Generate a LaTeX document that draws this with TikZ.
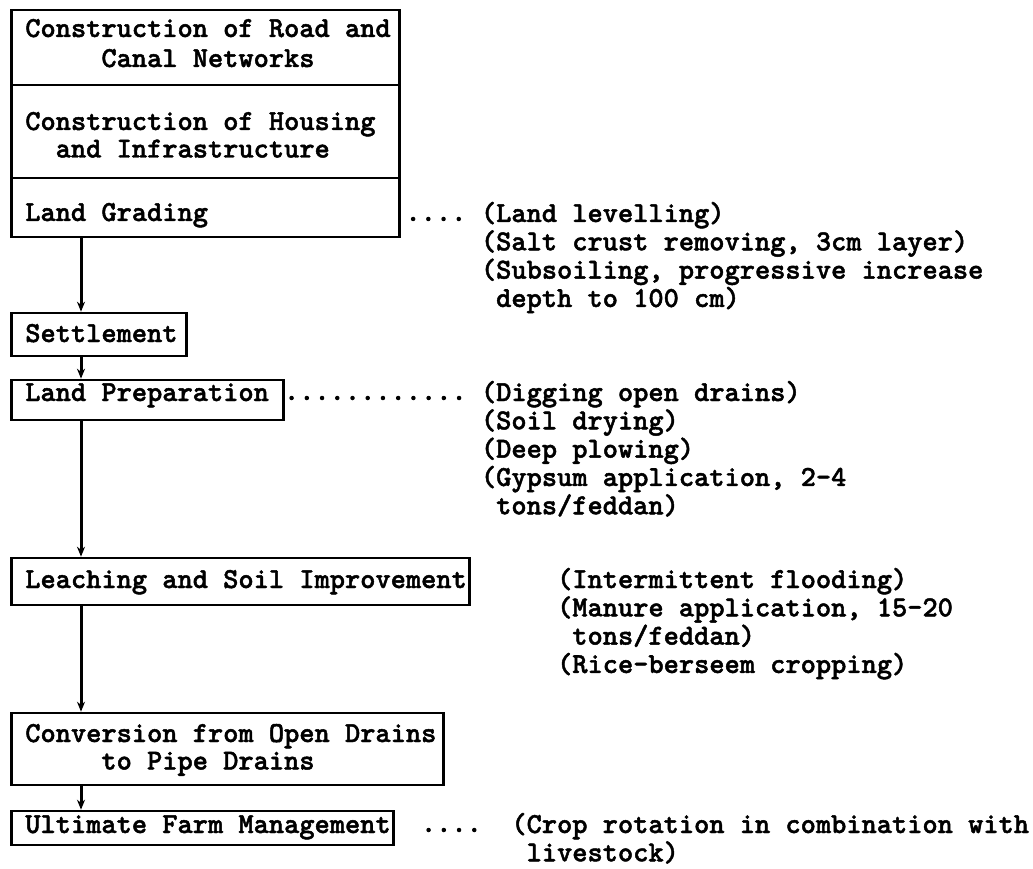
\documentclass[tikz,border=0pt]{standalone}
\usepackage{fontspec}
\setmonofont{lmmono10-regular.otf}[BoldFont=lmmonolt10-bold.otf,BoldFeatures={FakeBold=1.6}]
\usepackage{tikz}
\usetikzlibrary{arrows.meta}

\newcommand{\typewriter}{\fontsize{29}{27.5}\selectfont\ttfamily\bfseries}
\newcommand{\typedlines}[1]{\begin{tabular}[t]{@{}l@{}}#1\end{tabular}}
\newcommand{\typed}[2]{\makebox[#1][l]{\typedlines{#2}}}
\newcommand{\pad}[1]{\hphantom{#1}}

\tikzset{
  stage/.style={draw,line width=2.6pt,anchor=base west,inner xsep=14pt,inner ysep=0pt,font=\typewriter},
  note/.style={anchor=base west,inner sep=0pt,font=\typewriter},
  flow/.style={line width=3pt,-{Stealth[length=10pt,width=8pt]}},
  leader/.style={line width=4.5pt,line cap=round,dash pattern=on 0pt off 15.225pt}
}

\begin{document}
\begin{tikzpicture}[x=1pt,y=-1pt]
\useasboundingbox (0,0) rectangle (1033,869);
\coordinate (spine) at (81,0);

\node[stage,text height=27pt,text depth=48pt] (road) at (10,37)
  {\typed{360pt}{Construction of Road and\\[2.5pt]\pad{xxxxx}Canal Networks}};
\node[stage,text height=45pt,text depth=48pt] (housing) at (10,130)
  {\typed{360pt}{Construction of Housing\\\pad{xx}and Infrastructure}};
\node[stage,text height=43pt,text depth=16pt] (grading) at (10,221)
  {\typed{360pt}{Land Grading}};
\node[stage,text height=29pt,text depth=14pt] (settle) at (10,342)
  {\typed{147pt}{Settlement}};
\node[stage,text height=21pt,text depth=19pt] (prep) at (10,401)
  {\typed{244pt}{Land Preparation}};
\node[stage,text height=30pt,text depth=17pt] (leach) at (10,588)
  {\typed{430pt}{Leaching and Soil Improvement}};
\node[stage,text height=29pt,text depth=43pt] (convert) at (10,742)
  {\typed{404pt}{Conversion from Open Drains\\\pad{xxxxx}to Pipe Drains}};
\node[stage,text height=22pt,text depth=12pt] (farm) at (10,833)
  {\typed{354pt}{Ultimate Farm Management}};

\node[note] (gradenote) at (480.75,222) {\typedlines{(Land levelling)\\(Salt crust removing, 3cm layer)\\(Subsoiling, progressive increase\\\pad{x}depth to 100 cm)}};
\node[note] (prepnote) at (480.75,401) {\typedlines{(Digging open drains)\\(Soil drying)\\(Deep plowing)\\(Gypsum application, 2-4\\\pad{x}tons/feddan)}};
\node[note] (leachnote) at (556.9,588) {\typedlines{(Intermittent flooding)\\(Manure application, 15-20\\\pad{x}tons/feddan)\\(Rice-berseem cropping)}};
\node[note] (farmnote) at (511.2,833) {\typedlines{(Crop rotation in combination with\\\pad{x}livestock)}};

\draw[flow] (grading.south -| spine) -- (settle.north -| spine);
\draw[flow] (settle.south -| spine) -- (prep.north -| spine);
\draw[flow] (prep.south -| spine) -- (leach.north -| spine);
\draw[flow] (leach.south -| spine) -- (convert.north -| spine);
\draw[flow] (convert.south -| spine) -- (farm.north -| spine);

\draw[leader,shorten <=12.5pt,shorten >=17pt] (grading.east |- gradenote.base) ++(0,-3) -- ([yshift=3pt]gradenote.base west);
\draw[leader,shorten <=7pt,shorten >=17pt] (prep.east |- prepnote.base) ++(0,-3) -- ([yshift=3pt]prepnote.base west);
\draw[leader,shorten <=34pt,shorten >=32pt] (farm.east |- farmnote.base) ++(0,-3) -- ([yshift=3pt]farmnote.base west);
\end{tikzpicture}
\end{document}
